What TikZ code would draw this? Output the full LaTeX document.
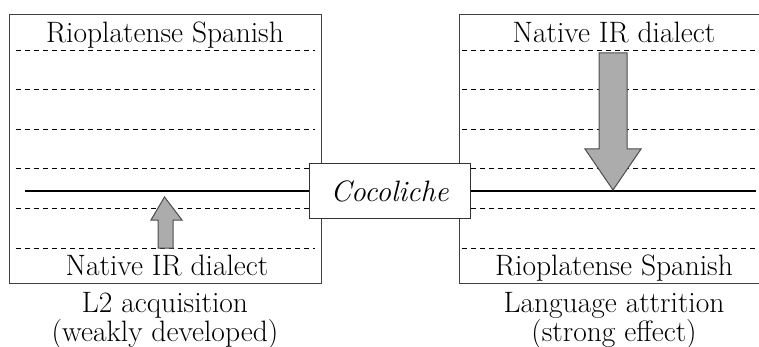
\documentclass[tikz,border=0pt]{standalone}
\usepackage{fontspec}
\usepackage{tikz}
\usetikzlibrary{positioning}
\tikzset{x=1pt, y=-1pt, every node/.style={font=\fontsize{29.5}{34}\selectfont, inner sep=0pt}}
\tikzstyle{panel}=[draw=black!75, line width=1pt]
\tikzstyle{tier}=[dash pattern=on 5pt off 4pt, line width=0.9pt]
\tikzstyle{mixline}=[line width=2.2pt]
\tikzstyle{flow}=[draw=black!70, fill=gray!65, line width=1pt]
\tikzstyle{label}=[anchor=base]

\begin{document}
\begin{tikzpicture}
\useasboundingbox (0,0) rectangle (759,347);
\clip (0,0) rectangle (759,347);
% left panel: L2 acquisition
\draw[panel] (9,15) rectangle (321,283);
\foreach \y in {50,89,129,168,208,248} \draw[tier] (16,\y) -- (315,\y);
\node[label] (leftTop) at (165,43) {Rioplatense Spanish};
\node[label] (leftBottom) at (167,275) {Native IR dialect};
\node[label] (leftCaption) at (165,312) {L2 acquisition};
\node[label, below=29pt of leftCaption.base, anchor=base] (leftNote) {(weakly developed)};
% right panel: attrition
\draw[panel] (459,15) rectangle (771,283);
\foreach \y in {50,89,129,168,208,248} \draw[tier] (462,\y) -- (759,\y);
\node[label] (rightTop) at (614,43) {Native IR dialect};
\node[label] (rightBottom) at (614,275) {Rioplatense Spanish};
\node[label] (rightCaption) at (614,312) {Language attrition};
\node[label, below=29pt of rightCaption.base, anchor=base] (rightNote) {(strong effect)};
% the mixed variety
\node[draw=black!80, line width=1pt, fill=white, minimum width=161pt, minimum height=54pt] (coco) at (389.5,191) {\itshape Cocoliche};
\coordinate (lineL) at (25,191);
\coordinate (lineR) at (756,191);
\draw[mixline] (lineL) -- (coco.west);
\draw[mixline] (coco.east) -- (lineR);
% arrows
\draw[flow] (158,248) -- (158,220) -- (151,220) -- (164.5,197) -- (182,220) -- (173,220) -- (173,248) -- cycle;
\draw[flow] (599,53) -- (627,53) -- (627,149) -- (641,149) -- (613,190) -- (585,149) -- (599,149) -- cycle;
\end{tikzpicture}
\end{document}
